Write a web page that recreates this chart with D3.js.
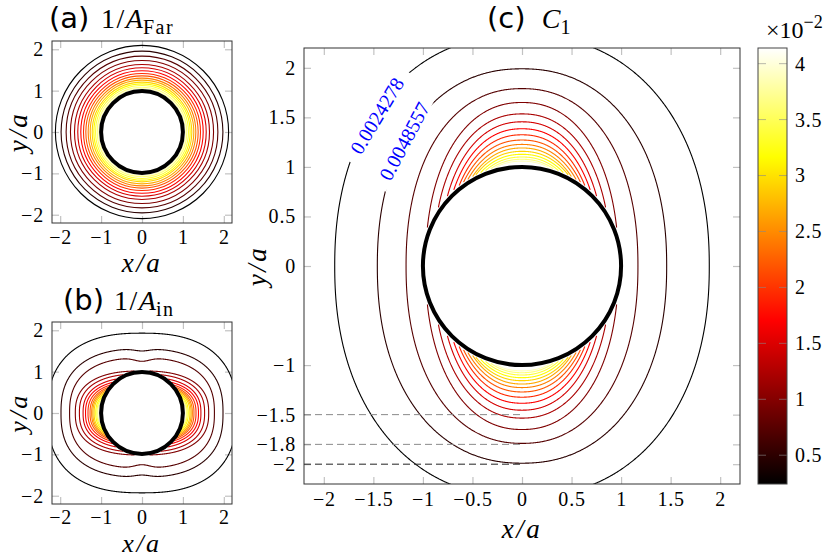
<!DOCTYPE html>
<html>
<head>
<meta charset="utf-8">
<script src="https://cdn.jsdelivr.net/npm/d3@7"></script>
<style>
body { margin: 0; background: #fff; }
svg { display: block; }
</style>
</head>
<body>
<script>
// contour levels: 17 levels spaced by levelStep (x 10^-2)
var levelStep = 0.24278;
var cbarMin = 0.24278, cbarMax = 4.14;
var cbarTicks = [0.5, 1, 1.5, 2, 2.5, 3, 3.5, 4];

var smallTicks = [-2, -1, 0, 1, 2];
var cTicksX = [-2, -1.5, -1, -0.5, 0, 0.5, 1, 1.5, 2];
var cTicksY = [2, 1.5, 1, 0.5, 0, -1, -1.5, -1.8, -2];

// (a) 1/A_Far : radius of each level circle
var farRadius = [2.117, 1.978, 1.855, 1.749, 1.65, 1.57, 1.496, 1.43, 1.373, 1.316, 1.267, 1.218, 1.177, 1.136, 1.095, 1.06, 1.035];

// (b) 1/A_in : half width on y=0, half height of the outer levels, dimple at x=0,
// and where the inner levels stop on the cylinder (deg from the x axis)
var inHalfX = [2.31, 1.98, 1.77, 1.63, 1.53, 1.44, 1.38, 1.32, 1.27, 1.23, 1.20, 1.17, 1.13, 1.10, 1.08, 1.06, 1.045];
var inHalfY = [1.93, 1.55, 1.33];
var inDip = [0, 0.05, 0.08];
var inEndAngle = [80, 64, 53, 46, 41, 37, 34, 31, 28, 25, 22, 19, 16, 13];

// (c) C_1 : half height on x=0, half width of the outer levels,
// and where the inner levels stop on the cylinder (deg from the y axis)
var c1HalfY = [2.335, 1.99, 1.79, 1.65, 1.535, 1.455, 1.385, 1.324, 1.271, 1.227, 1.191, 1.157, 1.127, 1.100, 1.077, 1.058, 1.042];
var c1HalfX = [1.89, 1.46, 1.17];
var c1EndAngle = [68, 55, 47, 42, 38, 35, 32, 29, 27, 24, 21, 18, 15, 12];
var c1Labels = [
  {text: "0.0024278", x: -1.46, y: 1.515, angle: -59},
  {text: "0.0048557", x: -1.184, y: 1.258, angle: -62}
];
var dashY = [-1.5, -1.8, -2];
var dashColor = ["#8a8a8a", "#8a8a8a", "#222"];

var serif = "'Liberation Serif', 'DejaVu Serif', serif";
var sans = "'DejaVu Sans', 'Noto Sans', sans-serif";
var R = 1.03;

var hot2 = d3.scaleLinear()
    .domain([0, 3 / 8, 6 / 8, 1])
    .range(["#000000", "#ff0000", "#ffff00", "#ffffff"]);
function levelColor(i) {
  return hot2(((i + 1) * levelStep - cbarMin) / (cbarMax - cbarMin));
}
function fmt(v) { return v < 0 ? "\u2212" + (-v) : String(v); }

var svg = d3.select("body").append("svg").attr("width", 830).attr("height", 557);
var defs = svg.append("defs");

function tickText(sel) {
  sel.attr("fill", "#000").attr("font-family", serif).attr("font-size", 20)
    .style("letter-spacing", "0.8px");
}

function makePanel(name, box, xt, yt, pad) {
  var x = d3.scaleLinear().domain([-2.2, 2.2]).range([box.left, box.right]);
  var y = d3.scaleLinear().domain([-2.2, 2.2]).range([box.bottom, box.top]);
  defs.append("clipPath").attr("id", "clip-" + name).append("rect")
      .attr("x", box.left).attr("y", box.top)
      .attr("width", box.right - box.left).attr("height", box.bottom - box.top);
  var g = svg.append("g");

  function style(ax) {
    ax.attr("font-family", null).attr("font-size", null);
    ax.select(".domain").remove();
    ax.selectAll(".tick line").attr("stroke", "#c2c2c2").attr("stroke-width", 1.2);
    ax.selectAll(".tick text").call(tickText);
  }
  g.append("g").attr("transform", "translate(0," + box.bottom + ")")
    .call(d3.axisBottom(x).tickValues(xt).tickFormat(fmt).tickSize(-7).tickPadding(pad)).call(style);
  g.append("g").attr("transform", "translate(0," + box.top + ")")
    .call(d3.axisTop(x).tickValues(xt).tickFormat("").tickSize(-7)).call(style);
  g.append("g").attr("transform", "translate(" + box.left + ",0)")
    .call(d3.axisLeft(y).tickValues(yt).tickFormat(fmt).tickSize(-7).tickPadding(8)).call(style);
  g.append("g").attr("transform", "translate(" + box.right + ",0)")
    .call(d3.axisRight(y).tickValues(yt).tickFormat("").tickSize(-7)).call(style);

  var plot = g.append("g").attr("clip-path", "url(#clip-" + name + ")");
  g.append("rect").attr("x", box.left).attr("y", box.top)
    .attr("width", box.right - box.left).attr("height", box.bottom - box.top)
    .attr("fill", "none").attr("stroke", "#333").attr("stroke-width", 1);
  return {x: x, y: y, g: g, plot: plot, box: box};
}

// closed superellipse, optionally dimpled near x=0, cut away inside radius R
function shape(hx, hy, n, dip, t0) {
  var pts = [];
  for (var i = 0; i <= 1440; i++) {
    var t = t0 + i / 1440 * 2 * Math.PI, c = Math.cos(t), s = Math.sin(t);
    var px = hx * Math.sign(c) * Math.pow(Math.abs(c), 2 / n);
    var py = hy * Math.sign(s) * Math.pow(Math.abs(s), 2 / n);
    if (dip) py -= Math.sign(py) * dip * Math.exp(-px * px / 0.07);
    pts.push([px, py]);
  }
  var runs = [], cur = [];
  pts.forEach(function(d) {
    if (Math.hypot(d[0], d[1]) >= R) cur.push(d);
    else { if (cur.length > 1) runs.push(cur); cur = []; }
  });
  if (cur.length > 1) runs.push(cur);
  return runs;
}

function drawContours(p, specs) {
  var line = d3.line().x(function(d) { return p.x(d[0]); }).y(function(d) { return p.y(d[1]); });
  specs.forEach(function(s, i) {
    p.plot.selectAll(null).data(s.runs).join("path")
      .attr("d", line).attr("fill", "none")
      .attr("stroke", levelColor(i)).attr("stroke-width", 1.1);
  });
}

function cylinder(p) {
  p.plot.append("circle").attr("cx", p.x(0)).attr("cy", p.y(0))
    .attr("r", p.x(1) - p.x(0)).attr("fill", "#fff")
    .attr("stroke", "#000").attr("stroke-width", 4);
}

function axisLabels(p, xBase, yBase, size) {
  var cx = (p.box.left + p.box.right) / 2, cy = (p.box.top + p.box.bottom) / 2;
  p.g.append("text").attr("x", cx).attr("y", xBase).attr("text-anchor", "middle")
    .attr("font-family", serif).attr("font-style", "italic").attr("font-size", size)
    .style("letter-spacing", "2.5px").text("x/a");
  p.g.append("text").attr("transform", "translate(" + yBase + "," + cy + ") rotate(-90)")
    .attr("text-anchor", "middle")
    .attr("font-family", serif).attr("font-style", "italic").attr("font-size", size)
    .style("letter-spacing", "2.5px").text("y/a");
}

function title(x0, base, tag, xSym, num, sym, sub) {
  var t = svg.append("text").attr("y", base).attr("font-family", serif).attr("font-size", 28);
  t.append("tspan").attr("x", x0).attr("font-family", sans).attr("font-size", 29).text(tag);
  t.append("tspan").attr("x", xSym).style("letter-spacing", "1.5px").text(num || "\u200a");
  t.append("tspan").attr("font-style", "italic").text(sym);
  t.append("tspan").attr("dy", 6).attr("font-size", 20).style("letter-spacing", "1.5px").text(sub);
}

// ---------- (a) ----------
var pa = makePanel("a", {left: 52, right: 232, top: 41, bottom: 223}, smallTicks, smallTicks, 7);
pa.plot.selectAll(null).data(farRadius).join("circle")
  .attr("cx", pa.x(0)).attr("cy", pa.y(0))
  .attr("r", function(d) { return pa.x(d) - pa.x(0); })
  .attr("fill", "none")
  .attr("stroke", function(d, i) { return levelColor(i); })
  .attr("stroke-width", 1.1);
cylinder(pa);
axisLabels(pa, 272, 27, 27);
title(49, 28, "(a)", 101, "1/", "A", "Far");

// ---------- (b) ----------
var pb = makePanel("b", {left: 52, right: 232, top: 322, bottom: 504}, smallTicks, smallTicks, 6);
var nIn = 2.5;
var inSpecs = inHalfX.map(function(hx, i) {
  var hy;
  if (i < inHalfY.length) hy = inHalfY[i];
  else {
    var phi = inEndAngle[i - inHalfY.length] * Math.PI / 180;
    var xe = R * Math.cos(phi), ye = R * Math.sin(phi);
    hy = ye / Math.pow(1 - Math.pow(xe / hx, nIn), 1 / nIn);
  }
  return {runs: shape(hx, hy, nIn, inDip[i] || 0, Math.PI / 2)};
});
drawContours(pb, inSpecs);
cylinder(pb);
axisLabels(pb, 552, 27, 26);
title(63, 310, "(b)", 114, "1/", "A", "in");

// ---------- (c) ----------
var pc = makePanel("c", {left: 304, right: 740, top: 48, bottom: 484}, cTicksX, cTicksY, 8);
var nC = 2.2;
var cSpecs = c1HalfY.map(function(hy, i) {
  var hx;
  if (i < c1HalfX.length) hx = c1HalfX[i];
  else {
    var phi = c1EndAngle[i - c1HalfX.length] * Math.PI / 180;
    var xe = R * Math.sin(phi), ye = R * Math.cos(phi);
    hx = xe / Math.pow(1 - Math.pow(ye / hy, nC), 1 / nC);
  }
  return {runs: shape(hx, hy, nC, 0, 0)};
});
drawContours(pc, cSpecs);
cylinder(pc);

// contour labels break the lines
c1Labels.forEach(function(l) {
  var lg = pc.plot.append("g")
    .attr("transform", "translate(" + pc.x(l.x) + "," + pc.y(l.y) + ") rotate(" + l.angle + ")");
  var bg = lg.append("rect").attr("fill", "#fff");
  var tx = lg.append("text").attr("text-anchor", "middle").attr("dy", "0.33em")
    .attr("font-family", serif).attr("font-size", 20).attr("fill", "#0000ff").text(l.text);
  var w = tx.node().getComputedTextLength() + 22;
  bg.attr("x", -w / 2).attr("y", -7).attr("width", w).attr("height", 14);
});

// dashed reference lines
pc.plot.selectAll(null).data(dashY).join("line")
  .attr("x1", pc.x(-2.2)).attr("x2", pc.x(0))
  .attr("y1", function(d) { return pc.y(d); }).attr("y2", function(d) { return pc.y(d); })
  .attr("stroke", function(d, i) { return dashColor[i]; })
  .attr("stroke-width", 1).attr("stroke-dasharray", "7,4");

axisLabels(pc, 538, 266, 27);
title(487, 28, "(c)", 538, "", "C", "1");

// ---------- colour bar ----------
var grad = defs.append("linearGradient").attr("id", "hot2")
  .attr("x1", 0).attr("y1", 1).attr("x2", 0).attr("y2", 0);
hot2.domain().forEach(function(o) {
  grad.append("stop").attr("offset", o).attr("stop-color", hot2(o));
});
var cb = {left: 758, right: 787, top: 48, bottom: 484};
var cy = d3.scaleLinear().domain([cbarMin, cbarMax]).range([cb.bottom, cb.top]);
var cbg = svg.append("g");
cbg.append("rect").attr("x", cb.left).attr("y", cb.top)
  .attr("width", cb.right - cb.left).attr("height", cb.bottom - cb.top)
  .attr("fill", "url(#hot2)");
cbg.selectAll(null).data(cbarTicks).join("line")
  .attr("x1", cb.left).attr("x2", cb.left + 8)
  .attr("y1", function(d) { return cy(d); }).attr("y2", function(d) { return cy(d); })
  .attr("stroke", "#888").attr("stroke-opacity", 0.6);
cbg.selectAll(null).data(cbarTicks).join("line")
  .attr("x1", cb.right - 8).attr("x2", cb.right)
  .attr("y1", function(d) { return cy(d); }).attr("y2", function(d) { return cy(d); })
  .attr("stroke", "#888").attr("stroke-opacity", 0.6);
cbg.append("rect").attr("x", cb.left).attr("y", cb.top)
  .attr("width", cb.right - cb.left).attr("height", cb.bottom - cb.top)
  .attr("fill", "none").attr("stroke", "#444").attr("stroke-width", 1);
cbg.append("g").attr("transform", "translate(" + cb.right + ",0)")
  .call(d3.axisRight(cy).tickValues(cbarTicks).tickFormat(fmt).tickSize(0).tickPadding(8))
  .call(function(ax) {
    ax.attr("font-family", null).attr("font-size", null);
    ax.select(".domain").remove();
    ax.selectAll(".tick text").call(tickText);
  });
var ex = svg.append("text").attr("x", 766).attr("y", 38)
  .attr("font-family", serif).attr("font-size", 24);
ex.append("tspan").text("\u00d710");
ex.append("tspan").attr("dy", -10).attr("font-size", 18).text("\u22122");
</script>
</body>
</html>
